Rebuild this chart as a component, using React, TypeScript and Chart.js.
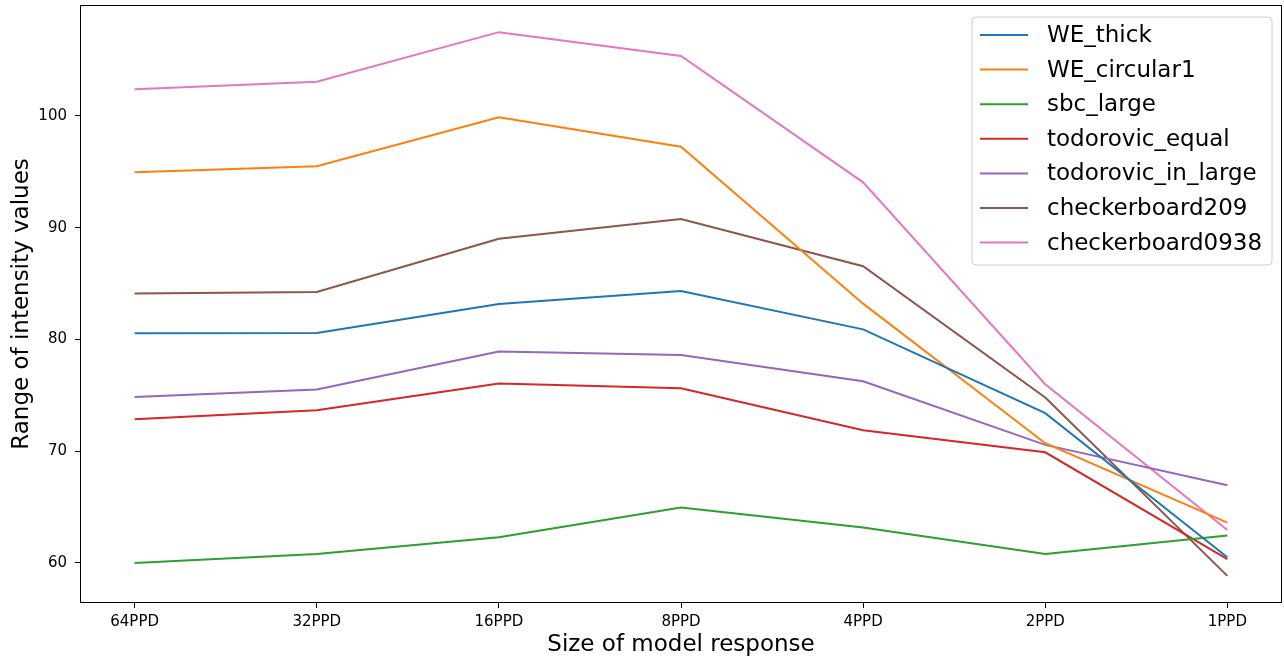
import React, { useEffect, useRef } from "react";
import { Chart, registerables } from "chart.js";

Chart.register(...registerables);

const categories = ["64PPD", "32PPD", "16PPD", "8PPD", "4PPD", "2PPD", "1PPD"];
const weThick = [80.55, 80.58, 83.18, 84.34, 80.9, 73.4, 60.5];
const weCircular1 = [94.96, 95.5, 99.88, 97.25, 83.2, 70.71, 63.6];
const sbcLarge = [60.0, 60.8, 62.3, 64.95, 63.16, 60.8, 62.45];
const todorovicEqual = [72.86, 73.66, 76.05, 75.63, 71.87, 69.9, 60.33];
const todorovicInLarge = [74.85, 75.51, 78.91, 78.61, 76.26, 70.56, 66.95];
const checkerboard209 = [84.1, 84.25, 89.0, 90.78, 86.55, 74.8, 58.84];
const checkerboard0938 = [102.4, 103.07, 107.5, 105.37, 94.06, 75.99, 62.95];

const seriesNames = [
  "WE_thick",
  "WE_circular1",
  "sbc_large",
  "todorovic_equal",
  "todorovic_in_large",
  "checkerboard209",
  "checkerboard0938",
];
const seriesValues = [
  weThick,
  weCircular1,
  sbcLarge,
  todorovicEqual,
  todorovicInLarge,
  checkerboard209,
  checkerboard0938,
];
const seriesColors = ["#1f77b4", "#ff7f0e", "#2ca02c", "#d62728", "#9467bd", "#8c564b", "#e377c2"];
const yTickValues = [60, 70, 80, 90, 100];
const yMin = 56.41;
const yMax = 109.93;
const FONT = "'DejaVu Sans', sans-serif";

const framePlugin = {
  id: "frame",
  afterDatasetsDraw(chart: any) {
    const { ctx, chartArea } = chart;
    ctx.save();
    ctx.strokeStyle = "#000";
    ctx.lineWidth = 1;
    ctx.strokeRect(
      Math.round(chartArea.left) + 0.5,
      Math.round(chartArea.top) + 0.5,
      Math.round(chartArea.right - chartArea.left) - 1,
      Math.round(chartArea.bottom - chartArea.top) - 1
    );
    ctx.restore();
  },
};

const legendPlugin = {
  id: "mplLegend",
  afterDraw(chart: any) {
    const { ctx, chartArea } = chart;
    const ds = chart.data.datasets;
    const boxW = 300;
    const rowH = 34.6;
    const boxH = 248;
    const x0 = chartArea.right - 10 - boxW;
    const y0 = chartArea.top + 12;
    ctx.save();
    ctx.beginPath();
    const r = 4;
    ctx.moveTo(x0 + r, y0);
    ctx.lineTo(x0 + boxW - r, y0);
    ctx.arcTo(x0 + boxW, y0, x0 + boxW, y0 + r, r);
    ctx.lineTo(x0 + boxW, y0 + boxH - r);
    ctx.arcTo(x0 + boxW, y0 + boxH, x0 + boxW - r, y0 + boxH, r);
    ctx.lineTo(x0 + r, y0 + boxH);
    ctx.arcTo(x0, y0 + boxH, x0, y0 + boxH - r, r);
    ctx.lineTo(x0, y0 + r);
    ctx.arcTo(x0, y0, x0 + r, y0, r);
    ctx.closePath();
    ctx.fillStyle = "rgba(255,255,255,0.8)";
    ctx.fill();
    ctx.strokeStyle = "#cccccc";
    ctx.lineWidth = 1;
    ctx.stroke();
    ctx.font = `23px ${FONT}`;
    ctx.textBaseline = "middle";
    ctx.textAlign = "left";
    ds.forEach((d: any, i: number) => {
      const cy = y0 + 18 + i * rowH;
      ctx.strokeStyle = d.borderColor;
      ctx.lineWidth = 2;
      ctx.beginPath();
      ctx.moveTo(x0 + 8, cy);
      ctx.lineTo(x0 + 56, cy);
      ctx.stroke();
      ctx.fillStyle = "#000";
      ctx.fillText(d.label, x0 + 75, cy + 1);
    });
    ctx.restore();
  },
};

export default function App() {
  const canvasRef = useRef<HTMLCanvasElement | null>(null);

  useEffect(() => {
    if (!canvasRef.current) return;
    Chart.defaults.color = "#000";
    const chart = new Chart(canvasRef.current, {
      type: "line",
      data: {
        datasets: seriesNames.map((name, i) => ({
          label: name,
          data: seriesValues[i].map((v, j) => ({ x: j, y: v })),
          borderColor: seriesColors[i],
          backgroundColor: seriesColors[i],
          borderWidth: 2,
          pointRadius: 0,
          tension: 0,
          fill: false,
        })),
      },
      options: {
        animation: false,
        responsive: false,
        maintainAspectRatio: false,
        layout: { padding: { top: 5, right: 2, left: 0, bottom: 0 } },
        plugins: {
          legend: { display: false },
          tooltip: { enabled: false },
        },
        scales: {
          x: {
            type: "linear",
            min: -0.3,
            max: 6.3,
            afterBuildTicks: (axis: any) => {
              axis.ticks = categories.map((_, i) => ({ value: i }));
            },
            afterFit: (scale: any) => {
              scale.height = 59;
              scale.paddingLeft = 0;
              scale.paddingRight = 0;
            },
            grid: {
              drawOnChartArea: false,
              drawTicks: true,
              tickLength: 5,
              color: "#000",
            },
            border: { display: false },
            ticks: {
              padding: 5,
              autoSkip: false,
              maxRotation: 0,
              font: { family: FONT, size: 15 },
              color: "#000",
              callback: (v: any) => categories[Math.round(Number(v))] ?? "",
            },
            title: {
              display: true,
              text: "Size of model response",
              font: { family: FONT, size: 23 },
              color: "#000",
              padding: { top: 0, bottom: 3 },
            },
          },
          y: {
            type: "linear",
            min: yMin,
            max: yMax,
            afterBuildTicks: (axis: any) => {
              axis.ticks = yTickValues.map((v) => ({ value: v }));
            },
            afterFit: (scale: any) => {
              scale.width = 80;
              scale.paddingTop = 0;
              scale.paddingBottom = 0;
            },
            grid: {
              drawOnChartArea: false,
              drawTicks: true,
              tickLength: 5,
              color: "#000",
            },
            border: { display: false },
            ticks: {
              padding: 8,
              font: { family: FONT, size: 15 },
              color: "#000",
              callback: (v: any) => String(v),
            },
            title: {
              display: true,
              text: "Range of intensity values",
              font: { family: FONT, size: 23 },
              color: "#000",
              padding: { top: 8, bottom: 0 },
            },
          },
        },
      },
      plugins: [framePlugin, legendPlugin],
    });
    return () => chart.destroy();
  }, []);

  return (
    <div style={{ position: "absolute", left: 0, top: 0, width: 1284, height: 662, background: "#fff" }}>
      <canvas ref={canvasRef} width={1284} height={662} style={{ width: 1284, height: 662 }} />
    </div>
  );
}
